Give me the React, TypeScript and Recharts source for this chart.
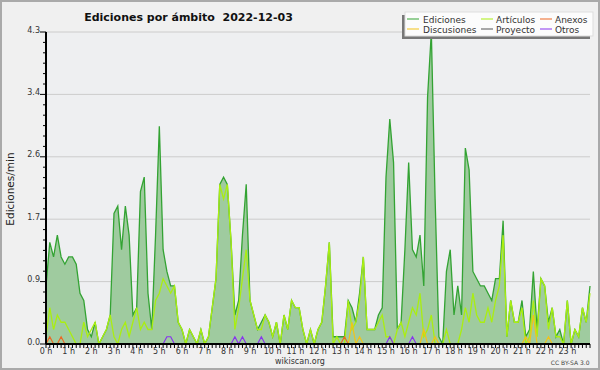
import { Area, CartesianGrid, ComposedChart, Line, XAxis, YAxis } from 'recharts'

// one value every 10 minutes, 0 h .. 24 h (145 slots), edits per minute
const hourLabels = [
   '0 h', '1 h', '2 h', '3 h', '4 h', '5 h', '6 h', '7 h', '8 h', '9 h', '10 h', '11 h',
   '12 h', '13 h', '14 h', '15 h', '16 h', '17 h', '18 h', '19 h', '20 h', '21 h', '22 h', '23 h',
]

const ediciones = [
   0.8, 1.4, 1.2, 1.5, 1.2, 1.1, 1.2, 1.2, 1.1, 0.7,
   0.6, 0.2, 0.1, 0.3, 0.0, 0.1, 0.2, 0.4, 1.8, 1.9,
   1.3, 1.9, 1.5, 0.4, 0.5, 2.1, 2.3, 0.7, 0.2, 1.5,
   3.0, 1.3, 1.0, 0.8, 0.8, 0.3, 0.2, 0.0, 0.2, 0.1,
   0.0, 0.2, 0.0, 0.1, 0.5, 0.9, 2.2, 2.3, 2.2, 1.4,
   0.4, 0.6, 1.5, 2.2, 0.6, 0.4, 0.2, 0.3, 0.4, 0.3,
   0.1, 0.3, 0.0, 0.4, 0.2, 0.6, 0.5, 0.5, 0.2, 0.0,
   0.2, 0.0, 0.2, 0.3, 0.8, 1.4, 0.1, 0.1, 0.1, 0.1,
   0.6, 0.5, 0.3, 0.7, 1.2, 0.2, 0.2, 0.2, 0.4, 0.5,
   2.3, 3.1, 2.5, 0.2, 0.3, 1.3, 2.5, 1.3, 1.2, 1.5,
   0.8, 3.4, 4.3, 2.0, 0.1, 0.0, 1.0, 1.3, 0.4, 0.8,
   0.4, 2.7, 2.4, 1.0, 0.9, 0.8, 0.8, 0.7, 0.6, 0.9,
   0.9, 1.7, 0.1, 0.6, 0.3, 0.3, 0.6, 0.1, 0.2, 1.0,
   0.2, 0.9, 0.8, 0.3, 0.5, 0.1, 0.2, 0.0, 0.6, 0.0,
   0.2, 0.1, 0.5, 0.3, 0.8,
]

const articulos = [
   0.1, 0.5, 0.2, 0.4, 0.3, 0.3, 0.2, 0.1, 0.0, 0.0,
   0.3, 0.1, 0.2, 0.3, 0.0, 0.1, 0.2, 0.4, 0.1, 0.0,
   0.2, 0.3, 0.1, 0.3, 0.5, 0.2, 0.3, 0.2, 0.2, 0.6,
   0.7, 0.9, 0.8, 0.7, 0.8, 0.3, 0.2, 0.0, 0.2, 0.1,
   0.0, 0.2, 0.0, 0.1, 0.5, 0.9, 2.2, 2.0, 2.2, 1.4,
   0.2, 0.5, 0.9, 1.3, 0.6, 0.4, 0.2, 0.2, 0.4, 0.3,
   0.1, 0.3, 0.0, 0.4, 0.2, 0.6, 0.5, 0.5, 0.2, 0.0,
   0.2, 0.0, 0.2, 0.3, 0.8, 1.4, 0.0, 0.1, 0.0, 0.0,
   0.6, 0.2, 0.3, 0.6, 1.2, 0.2, 0.2, 0.2, 0.3, 0.4,
   0.1, 0.1, 0.0, 0.2, 0.3, 0.1, 0.3, 0.5, 0.4, 0.7,
   0.1, 0.2, 0.4, 0.0, 0.0, 0.0, 0.2, 0.0, 0.0, 0.0,
   0.2, 0.5, 0.3, 0.7, 0.4, 0.3, 0.3, 0.5, 0.3, 0.6,
   0.8, 1.5, 0.1, 0.6, 0.3, 0.3, 0.5, 0.0, 0.1, 0.6,
   0.1, 0.9, 0.8, 0.2, 0.5, 0.1, 0.1, 0.0, 0.6, 0.0,
   0.2, 0.1, 0.5, 0.3, 0.7,
]

const discusiones = [
   0, 0, 0, 0, 0, 0, 0, 0, 0, 0,
   0, 0, 0, 0, 0, 0, 0, 0, 0, 0,
   0, 0, 0, 0, 0, 0, 0, 0, 0, 0,
   0, 0, 0, 0, 0, 0, 0, 0, 0, 0,
   0, 0, 0, 0, 0, 0, 0, 0, 0, 0,
   0, 0, 0, 0, 0, 0, 0, 0, 0, 0,
   0, 0, 0, 0, 0, 0, 0, 0, 0, 0,
   0, 0, 0, 0, 0, 0, 0, 0, 0, 0,
   0, 0.3, 0, 0.1, 0, 0, 0, 0, 0, 0,
   0, 0, 0, 0, 0, 0, 0, 0, 0, 0,
   0.2, 0, 0, 0.1, 0, 0, 0, 0, 0, 0,
   0, 0, 0, 0, 0, 0, 0, 0, 0, 0,
   0, 0, 0, 0, 0, 0, 0, 0.1, 0, 0.4,
   0, 0, 0, 0.1, 0, 0, 0, 0, 0, 0,
   0, 0, 0, 0, 0,
]

const anexos = [
   0, 0.1, 0, 0, 0.1, 0, 0, 0, 0, 0,
   0, 0, 0, 0, 0, 0, 0, 0, 0, 0,
   0, 0, 0, 0, 0, 0, 0, 0, 0, 0,
   0, 0, 0, 0, 0, 0, 0, 0, 0, 0,
   0, 0, 0, 0, 0, 0, 0, 0, 0, 0,
   0, 0, 0, 0, 0, 0, 0, 0, 0, 0,
   0, 0, 0, 0, 0, 0, 0, 0, 0, 0,
   0, 0, 0, 0, 0, 0, 0, 0, 0, 0.1,
   0, 0, 0, 0, 0, 0, 0, 0, 0, 0,
   0, 0, 0, 0, 0, 0, 0, 0, 0, 0,
   0, 0, 0, 0, 0, 0, 0, 0, 0, 0,
   0, 0, 0, 0, 0, 0, 0, 0, 0, 0,
   0, 0, 0, 0, 0, 0, 0, 0, 0, 0,
   0, 0, 0, 0, 0, 0, 0, 0, 0, 0,
   0, 0, 0, 0, 0,
]

const proyecto = [
   0, 0, 0, 0, 0, 0, 0, 0, 0, 0,
   0, 0, 0, 0, 0, 0, 0, 0, 0, 0,
   0, 0, 0, 0, 0, 0, 0, 0, 0, 0,
   0, 0, 0, 0, 0, 0, 0, 0, 0, 0,
   0, 0, 0, 0, 0, 0, 0, 0, 0, 0,
   0, 0, 0, 0, 0, 0, 0, 0, 0, 0,
   0, 0, 0, 0, 0, 0, 0, 0, 0, 0,
   0, 0, 0, 0, 0, 0, 0, 0, 0, 0,
   0, 0, 0, 0, 0, 0, 0, 0, 0, 0,
   0, 0, 0, 0, 0, 0, 0, 0, 0, 0,
   0, 0, 0, 0, 0, 0, 0, 0, 0, 0,
   0, 0, 0, 0, 0, 0, 0, 0, 0, 0,
   0, 0, 0, 0, 0, 0, 0, 0, 0, 0,
   0, 0, 0, 0, 0, 0, 0, 0, 0, 0,
   0, 0, 0, 0, 0,
]

const otros = [
   0, 0, 0, 0, 0, 0, 0, 0, 0, 0,
   0, 0, 0, 0, 0, 0, 0, 0, 0, 0,
   0, 0, 0, 0, 0, 0, 0, 0, 0, 0,
   0, 0, 0.1, 0.1, 0, 0, 0, 0, 0, 0,
   0, 0, 0, 0, 0, 0, 0, 0, 0, 0,
   0.1, 0, 0.1, 0, 0, 0, 0, 0.1, 0, 0,
   0, 0, 0, 0, 0, 0, 0, 0, 0, 0,
   0, 0, 0, 0, 0, 0, 0, 0, 0, 0,
   0, 0, 0, 0, 0, 0, 0, 0, 0, 0,
   0, 0.1, 0, 0, 0, 0, 0, 0.1, 0, 0,
   0, 0, 0, 0, 0, 0, 0, 0, 0, 0,
   0, 0, 0, 0, 0, 0, 0, 0, 0, 0,
   0, 0, 0, 0, 0, 0, 0, 0, 0, 0,
   0, 0, 0, 0, 0, 0, 0, 0, 0, 0,
   0, 0, 0, 0, 0,
]

const yMajor = [0, 0.86, 1.72, 2.58, 3.44, 4.3]
const yTickLabels = ['0.0', '0.9', '1.7', '2.6', '3.4', '4.3']
const Y_MAX = 4.3

const legendItems = [
   { name: 'Ediciones', color: '#33a333', col: 0, row: 0 },
   { name: 'Artículos', color: '#aaee11', col: 1, row: 0 },
   { name: 'Anexos', color: '#ee6622', col: 2, row: 0 },
   { name: 'Discusiones', color: '#f2c318', col: 0, row: 1 },
   { name: 'Proyecto', color: '#555555', col: 1, row: 1 },
   { name: 'Otros', color: '#8833ee', col: 2, row: 1 },
]

const rows = ediciones.map((v, i) => ({
   t: i,
   ediciones: v,
   articulos: articulos[i],
   discusiones: discusiones[i],
   anexos: anexos[i],
   proyecto: proyecto[i],
   otros: otros[i],
}))

const xTicks = rows.map((r) => r.t)
const yTicks = Array.from({ length: 31 }, (_, i) => (i * Y_MAX) / 30)

const FONT = '"DejaVu Sans", Verdana, sans-serif'
const PLOT_LEFT = 46
const PLOT_BOTTOM = 344

function XTick(props: any) {
   const { x, payload } = props
   const t = payload.value
   if (t % 6 !== 0 || t / 6 >= hourLabels.length) return <g />
   return (
      <text x={x} y={PLOT_BOTTOM + 9.5} textAnchor="middle" fontSize={8} fill="#333" fontFamily={FONT}>
         {hourLabels[t / 6]}
      </text>
   )
}

function YTick(props: any) {
   const { y, index } = props
   const major = index % 6 === 0
   return (
      <g>
         <line x1={major ? PLOT_LEFT - 6 : PLOT_LEFT - 3} x2={PLOT_LEFT} y1={y} y2={y} stroke="#000" />
         {major && (
            <text x={40} y={y + 0.5} textAnchor="end" fontSize={8} fill="#333" fontFamily={FONT}>
               {yTickLabels[index / 6]}
            </text>
         )}
      </g>
   )
}

export default function App() {
   return (
      <div style={{ position: 'relative', width: 600, height: 370, background: '#f0f0f0' }}>
         <style>{'body{margin:0}'}</style>
         <ComposedChart width={600} height={370} data={rows} margin={{ top: 32, right: 10, bottom: 6, left: 0 }}>
            <CartesianGrid vertical={false} horizontalValues={yMajor} stroke="#cccccc" fill="#eeeff1" />
            <Area
               type="linear"
               dataKey="ediciones"
               stroke="#33a333"
               strokeWidth={1.3}
               fill="#9fcb9f"
               fillOpacity={1}
               dot={false}
               activeDot={false}
               isAnimationActive={false}
            />
            <Line type="linear" dataKey="articulos" stroke="#aaee11" strokeWidth={1.3} dot={false} isAnimationActive={false} />
            <Line type="linear" dataKey="discusiones" stroke="#f2c318" strokeWidth={1.2} dot={false} isAnimationActive={false} />
            <Line type="linear" dataKey="anexos" stroke="#ee6622" strokeWidth={1.2} dot={false} isAnimationActive={false} />
            <Line type="linear" dataKey="proyecto" stroke="#555555" strokeWidth={1.2} dot={false} isAnimationActive={false} />
            <Line type="linear" dataKey="otros" stroke="#8833ee" strokeWidth={1.2} dot={false} isAnimationActive={false} />
            <XAxis
               dataKey="t"
               type="number"
               domain={[0, 144]}
               ticks={xTicks}
               interval={0}
               height={20}
               tickSize={4}
               tickLine={{ stroke: '#000' }}
               axisLine={{ stroke: '#000', strokeWidth: 2 }}
               tick={<XTick />}
            />
            <YAxis
               type="number"
               domain={[0, Y_MAX]}
               ticks={yTicks}
               interval={0}
               width={46}
               tickLine={false}
               axisLine={{ stroke: '#000', strokeWidth: 2 }}
               tick={<YTick />}
            />
         </ComposedChart>
         <svg width={600} height={370} style={{ position: 'absolute', left: 0, top: 0, pointerEvents: 'none' }}>
            <rect x={1} y={1} width={598} height={368} fill="none" stroke="#aaaaaa" strokeWidth={2} />
            <text x={188.5} y={21} textAnchor="middle" fontSize={11} fontWeight="bold" fill="#111" fontFamily={FONT} style={{ whiteSpace: 'pre' }}>
               {'Ediciones por ámbito  2022-12-03'}
            </text>
            <text x={13.5} y={189} transform="rotate(-90 13.5 189)" textAnchor="middle" fontSize={10.5} fill="#222" fontFamily={FONT}>
               Ediciones/min
            </text>
            <text x={300} y={364} textAnchor="middle" fontSize={8} fill="#333" fontFamily={FONT}>
               wikiscan.org
            </text>
            <text x={589.5} y={365} textAnchor="end" fontSize={6} fill="#444" fontFamily={FONT}>
               CC BY-SA 3.0
            </text>
            <rect x={402} y={15} width={188} height={24} fill="#777" />
            <rect x={405} y={12} width={188} height={24} fill="#fcfcfc" stroke="#dddddd" strokeWidth={1} />
            {legendItems.map((it) => {
               const lx = [407, 481, 540][it.col]
               const tx = [423, 496, 555][it.col]
               const ly = it.row === 0 ? 19 : 29
               return (
                  <g key={it.name}>
                     <line x1={lx} x2={lx + 12} y1={ly} y2={ly} stroke={it.color} strokeWidth={1} />
                     <text x={tx} y={ly + 3.5} fontSize={9} fill="#333" fontFamily={FONT}>
                        {it.name}
                     </text>
                  </g>
               )
            })}
         </svg>
      </div>
   )
}
